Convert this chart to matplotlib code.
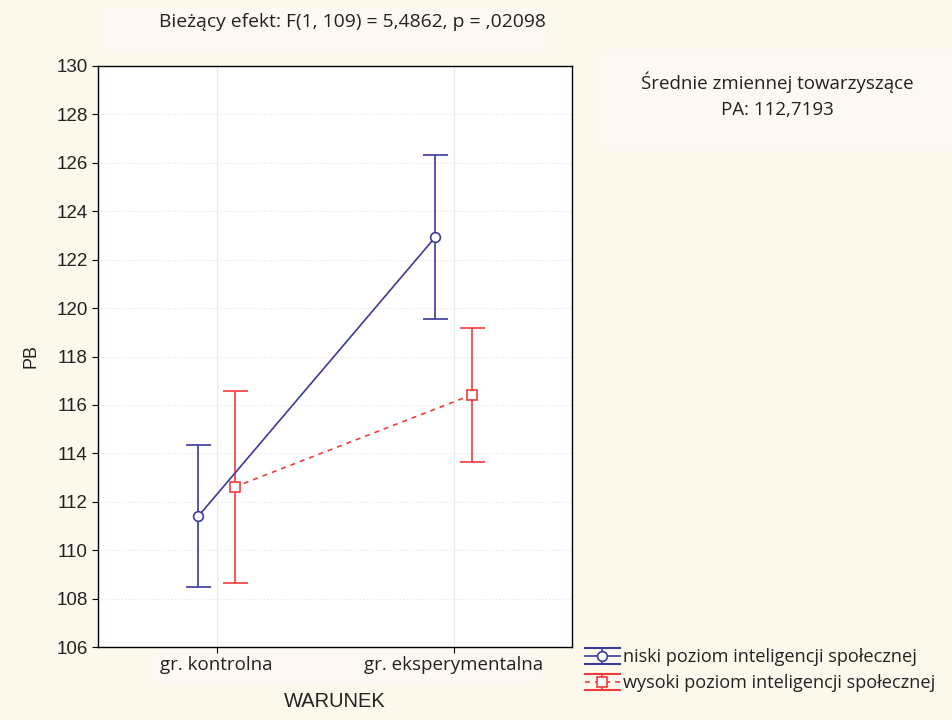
import matplotlib
matplotlib.use("Agg")
import matplotlib.pyplot as plt
from matplotlib.lines import Line2D
from matplotlib.legend_handler import HandlerBase
import numpy as np

categories = ["gr. kontrolna", "gr. eksperymentalna"]
series_names = ["niski poziom inteligencji społecznej", "wysoki poziom inteligencji społecznej"]
low_means = [111.41, 122.94]
low_err = [2.94, 3.39]
high_means = [112.61, 116.41]
high_err = [3.96, 2.75]
yticks = [106, 108, 110, 112, 114, 116, 118, 120, 122, 124, 126, 128, 130]

bg = "#fcf8ec"
boxbg = "#fdf8f2"
blue = "#3b3b9b"
red = "#f23c3c"
txt = "#222222"

fig = plt.figure(figsize=(9.52, 7.2), dpi=100, facecolor=bg)
ax = fig.add_axes([98/952, 1-647/720, 474/952, (647-66)/720])
ax.set_facecolor("white")
ax.set_zorder(2)

x = np.arange(len(categories))
off = 0.076
eb1 = ax.errorbar(x - off, low_means, yerr=low_err, color=blue, lw=1.2, marker="o",
                  ms=7, mfc="white", mec=blue, mew=1.2, capsize=9, capthick=1.5, zorder=3)
eb2 = ax.errorbar(x + off, high_means, yerr=high_err, color=red, lw=1.2, ls=(0, (3, 3)),
                  marker="s", ms=7, mfc="white", mec=red, mew=1.2, capsize=9, capthick=1.5, zorder=3)
for bars in (eb1[2], eb2[2]):
    for b in bars:
        b.set_linestyle("-")

ax.set_xlim(-0.5, 1.5)
ax.set_ylim(106, 130)
ax.set_yticks(yticks)
ax.set_xticks(x)
ax.set_xticklabels(categories)
ax.tick_params(direction="out", length=4, colors="black")
ax.tick_params(axis="x", pad=2.5)
for lab in ax.get_yticklabels():
    lab.set_family("Liberation Sans")
    lab.set_fontsize(13.5)
    lab.set_color(txt)
for lab in ax.get_xticklabels():
    lab.set_family("Open Sans")
    lab.set_fontsize(13.5)
    lab.set_color(txt)
ax.yaxis.grid(True, color="#e6e6e6", ls=":", lw=0.9)
ax.xaxis.grid(True, color="#ececec", ls="-", lw=0.9)
ax.set_axisbelow(True)
for s in ax.spines.values():
    s.set_linewidth(1.0)

ax.set_ylabel("PB", family="Liberation Sans", fontsize=13, labelpad=12, color=txt)
ax.set_xlabel("WARUNEK", family="Liberation Sans", fontsize=14.5, labelpad=13, color=txt)

# x tick label box
fig.patches.append(plt.Rectangle((150/952, 1-684/720), (540-150)/952, 34/720,
                                 transform=fig.transFigure, facecolor=boxbg, edgecolor="none", zorder=0))
# title box
fig.patches.append(plt.Rectangle((103/952, 1-52/720), (545-103)/952, 44/720,
                                 transform=fig.transFigure, facecolor=boxbg, edgecolor="none", zorder=0))
fig.text(352/952, 1-22/720, "Bieżący efekt: F(1, 109) = 5,4862, p = ,02098",
         ha="center", va="center", fontsize=13.9, family="Open Sans", color=txt, zorder=3)

# covariate box
fig.patches.append(plt.Rectangle((593/952, 1-150/720), (952-593)/952, 100/720,
                                 transform=fig.transFigure, facecolor=boxbg, edgecolor="none", zorder=0))
fig.text(777/952, 1-82/720, "Średnie zmiennej towarzyszące", ha="center", va="center",
         fontsize=13.5, family="Open Sans", color=txt, zorder=3)
fig.text(777/952, 1-110/720, "PA: 112,7193", ha="center", va="center",
         fontsize=13.5, family="Open Sans", color=txt, zorder=3)


class EBHandler(HandlerBase):
    def __init__(self, color, ls, marker):
        super().__init__()
        self.color = color
        self.ls = ls
        self.marker = marker

    def create_artists(self, legend, orig_handle, xdescent, ydescent, width, height, fontsize, trans):
        x0 = -xdescent
        x1 = width - xdescent
        cx = (x0 + x1) / 2
        cy = height / 2 - ydescent
        d = height * 0.62
        arts = []
        arts.append(Line2D([x0, x1], [cy, cy], color=self.color, lw=1.2, ls=self.ls, transform=trans))
        arts.append(Line2D([cx, cx], [cy - d, cy + d], color=self.color, lw=1.2, transform=trans))
        arts.append(Line2D([x0, x1], [cy + d, cy + d], color=self.color, lw=1.5, transform=trans))
        arts.append(Line2D([x0, x1], [cy - d, cy - d], color=self.color, lw=1.5, transform=trans))
        arts.append(Line2D([cx], [cy], marker=self.marker, ms=7, mfc="white", mec=self.color,
                           mew=1.2, ls="none", transform=trans))
        return arts


h1 = Line2D([], [], color=blue)
h2 = Line2D([], [], color=red)
leg = fig.legend(handles=[h1, h2], labels=series_names, loc="upper left",
                 bbox_to_anchor=(585/952, 1-648/720),
                 frameon=False, prop={"family": "Open Sans", "size": 13.1},
                 handlelength=1.9, handletextpad=0.2, labelspacing=0.45, borderaxespad=0,
                 borderpad=0,
                 handler_map={h1: EBHandler(blue, "-", "o"), h2: EBHandler(red, (0, (3, 3)), "s")})
leg.set_zorder(3)
for t in leg.get_texts():
    t.set_color(txt)

fig.savefig("out.png", dpi=100, facecolor=bg)
